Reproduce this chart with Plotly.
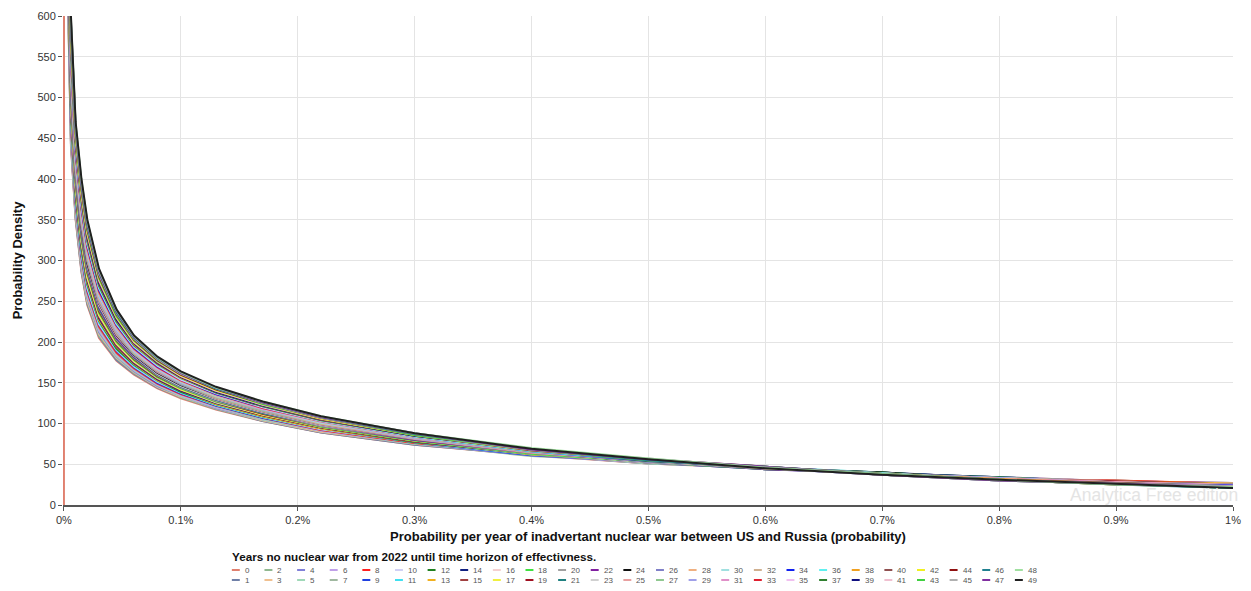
import plotly.graph_objects as go

# x positions in percent (probability per year, %)
x_pct = [0.003, 0.006, 0.01, 0.015, 0.02, 0.03, 0.045, 0.06, 0.08, 0.1, 0.13, 0.17,
         0.22, 0.3, 0.4, 0.5, 0.6, 0.7, 0.8, 0.9, 1.0]
# series "0" starts with a spike at the origin
s0_head_x = [0.0, 0.0003]
s0_head_y = [0, 3000]

y_00 = [650, 440, 350, 285, 245, 205, 177, 160, 143, 131, 117, 103, 89, 74, 61, 51, 45, 39, 34, 29, 27]
y_01 = [655, 443, 352, 287, 247, 207, 178, 161, 144, 132, 118, 103, 89, 74, 62, 51, 46, 38, 34, 28, 27]
y_02 = [660, 447, 355, 290, 249, 208, 180, 162, 145, 132, 118, 104, 90, 75, 60, 53, 44, 40, 32, 30, 25]
y_03 = [665, 450, 357, 292, 251, 210, 181, 163, 145, 133, 119, 104, 90, 75, 62, 52, 46, 39, 33, 28, 26]
y_04 = [670, 453, 360, 294, 254, 212, 182, 164, 146, 134, 119, 105, 91, 75, 61, 53, 45, 38, 34, 29, 27]
y_05 = [676, 456, 362, 297, 256, 214, 183, 165, 147, 134, 120, 105, 91, 75, 63, 51, 46, 40, 32, 30, 25]
y_06 = [681, 460, 365, 299, 258, 215, 185, 166, 148, 135, 120, 106, 91, 76, 61, 52, 44, 39, 34, 28, 26]
y_07 = [686, 463, 367, 301, 260, 217, 186, 167, 149, 136, 121, 106, 92, 76, 62, 54, 46, 38, 33, 29, 24]
y_08 = [691, 466, 370, 304, 262, 219, 187, 168, 149, 136, 122, 107, 92, 76, 63, 52, 45, 40, 32, 30, 26]
y_09 = [696, 469, 372, 306, 264, 221, 189, 169, 150, 137, 122, 107, 93, 77, 61, 53, 46, 39, 34, 28, 25]
y_10 = [701, 473, 375, 309, 266, 222, 190, 170, 151, 138, 123, 108, 93, 77, 63, 52, 44, 38, 33, 27, 26]
y_11 = [706, 476, 377, 311, 269, 224, 191, 171, 152, 138, 123, 108, 94, 77, 62, 54, 46, 40, 32, 29, 24]
y_12 = [711, 479, 379, 313, 271, 226, 192, 172, 153, 139, 124, 109, 94, 77, 64, 52, 45, 39, 34, 28, 25]
y_13 = [716, 483, 382, 316, 273, 227, 194, 173, 153, 140, 124, 109, 94, 78, 62, 53, 46, 38, 32, 29, 26]
y_14 = [721, 486, 384, 318, 275, 229, 195, 174, 154, 140, 125, 110, 95, 78, 63, 52, 44, 40, 33, 27, 24]
y_15 = [727, 489, 387, 320, 277, 231, 196, 175, 155, 141, 126, 110, 95, 78, 64, 54, 46, 39, 31, 28, 25]
y_16 = [732, 492, 389, 323, 279, 233, 198, 176, 156, 142, 126, 111, 96, 79, 63, 52, 45, 38, 33, 29, 24]
y_17 = [737, 496, 392, 325, 281, 234, 199, 177, 157, 142, 127, 111, 96, 79, 64, 54, 46, 39, 32, 27, 26]
y_18 = [742, 499, 394, 327, 284, 236, 200, 178, 157, 143, 127, 112, 96, 79, 63, 53, 44, 40, 31, 28, 24]
y_19 = [747, 502, 397, 330, 286, 238, 202, 179, 158, 144, 128, 112, 97, 80, 65, 53, 46, 38, 32, 29, 25]
y_20 = [752, 505, 399, 332, 288, 240, 203, 180, 159, 144, 128, 113, 97, 80, 64, 55, 45, 39, 33, 27, 23]
y_21 = [757, 509, 401, 334, 290, 241, 204, 181, 160, 145, 129, 113, 98, 80, 65, 53, 46, 38, 31, 28, 25]
y_22 = [762, 512, 404, 337, 292, 243, 205, 182, 161, 146, 130, 114, 98, 80, 64, 54, 44, 39, 32, 27, 24]
y_23 = [767, 515, 406, 339, 294, 245, 207, 183, 161, 146, 130, 114, 98, 81, 66, 53, 46, 38, 33, 28, 23]
y_24 = [772, 518, 409, 341, 296, 247, 208, 184, 162, 147, 131, 115, 99, 81, 65, 55, 45, 40, 31, 27, 24]
y_25 = [778, 522, 411, 344, 299, 248, 209, 185, 163, 148, 131, 115, 99, 81, 64, 54, 46, 38, 32, 28, 25]
y_26 = [783, 525, 414, 346, 301, 250, 211, 185, 164, 148, 132, 116, 100, 82, 66, 53, 45, 39, 31, 27, 23]
y_27 = [788, 528, 416, 348, 303, 252, 212, 186, 165, 149, 132, 116, 100, 82, 65, 55, 47, 37, 32, 26, 24]
y_28 = [793, 532, 419, 351, 305, 253, 213, 187, 165, 150, 133, 117, 100, 82, 66, 54, 45, 39, 31, 28, 23]
y_29 = [798, 535, 421, 353, 307, 255, 214, 188, 166, 150, 134, 117, 101, 82, 65, 55, 46, 38, 33, 27, 24]
y_30 = [803, 538, 424, 356, 309, 257, 216, 189, 167, 151, 134, 118, 101, 83, 67, 54, 45, 37, 31, 26, 23]
y_31 = [808, 541, 426, 358, 311, 259, 217, 190, 168, 152, 135, 118, 102, 83, 66, 55, 47, 38, 32, 28, 24]
y_32 = [813, 545, 428, 360, 313, 260, 218, 191, 169, 152, 135, 119, 102, 83, 65, 54, 45, 39, 31, 26, 23]
y_33 = [818, 548, 431, 363, 316, 262, 220, 192, 169, 153, 136, 119, 103, 84, 67, 55, 46, 37, 32, 27, 22]
y_34 = [823, 551, 433, 365, 318, 264, 221, 193, 170, 154, 136, 120, 103, 84, 66, 54, 47, 38, 31, 26, 24]
y_35 = [829, 554, 436, 367, 320, 266, 222, 194, 171, 154, 137, 120, 103, 84, 67, 56, 45, 37, 32, 27, 23]
y_36 = [834, 558, 438, 370, 322, 267, 223, 195, 172, 155, 138, 121, 104, 84, 66, 55, 46, 39, 31, 26, 22]
y_37 = [839, 561, 441, 372, 324, 269, 225, 196, 173, 156, 138, 121, 104, 85, 68, 54, 47, 37, 31, 27, 23]
y_38 = [844, 564, 443, 374, 326, 271, 226, 197, 173, 156, 139, 122, 105, 85, 67, 56, 46, 38, 32, 26, 22]
y_39 = [849, 568, 446, 377, 328, 272, 227, 198, 174, 157, 139, 122, 105, 85, 68, 55, 45, 37, 30, 26, 23]
y_40 = [854, 571, 448, 379, 331, 274, 229, 199, 175, 158, 140, 123, 105, 86, 67, 56, 47, 38, 31, 27, 22]
y_41 = [859, 574, 450, 381, 333, 276, 230, 200, 176, 158, 140, 123, 106, 86, 68, 55, 46, 37, 30, 26, 23]
y_42 = [864, 577, 453, 384, 335, 278, 231, 201, 177, 159, 141, 124, 106, 86, 69, 56, 45, 38, 31, 25, 22]
y_43 = [869, 581, 455, 386, 337, 279, 232, 202, 177, 160, 142, 124, 107, 86, 68, 55, 47, 37, 30, 26, 21]
y_44 = [874, 584, 458, 388, 339, 281, 234, 203, 178, 160, 142, 125, 107, 87, 69, 56, 46, 38, 31, 25, 22]
y_45 = [880, 587, 460, 391, 341, 283, 235, 204, 179, 161, 143, 125, 107, 87, 68, 57, 45, 37, 30, 26, 23]
y_46 = [885, 590, 463, 393, 343, 285, 236, 205, 180, 162, 143, 126, 108, 87, 69, 55, 46, 38, 31, 25, 21]
y_47 = [890, 594, 465, 395, 346, 286, 238, 206, 181, 162, 144, 126, 108, 88, 68, 56, 47, 37, 30, 26, 22]
y_48 = [895, 597, 468, 398, 348, 288, 239, 207, 181, 163, 144, 127, 109, 88, 70, 57, 46, 38, 31, 25, 22]
y_49 = [900, 600, 470, 400, 350, 290, 240, 208, 182, 164, 145, 127, 109, 88, 69, 56, 45, 37, 31, 26, 21]

series_y = [y_00, y_01, y_02, y_03, y_04, y_05, y_06, y_07, y_08, y_09,
            y_10, y_11, y_12, y_13, y_14, y_15, y_16, y_17, y_18, y_19,
            y_20, y_21, y_22, y_23, y_24, y_25, y_26, y_27, y_28, y_29,
            y_30, y_31, y_32, y_33, y_34, y_35, y_36, y_37, y_38, y_39,
            y_40, y_41, y_42, y_43, y_44, y_45, y_46, y_47, y_48, y_49]

series_names = ["0", "1", "2", "3", "4", "5", "6", "7", "8", "9",
                "10", "11", "12", "13", "14", "15", "16", "17", "18", "19",
                "20", "21", "22", "23", "24", "25", "26", "27", "28", "29",
                "30", "31", "32", "33", "34", "35", "36", "37", "38", "39",
                "40", "41", "42", "43", "44", "45", "46", "47", "48", "49"]

series_colors = ["#e0806f", "#7080a8", "#90b890", "#f0c090", "#8080d8", "#a0d8b8", "#c0a0e8", "#a0b8a0",
                 "#ff2020", "#2040e0", "#d0d0f4", "#40e0f0", "#208020", "#f0b020", "#102080", "#a04040",
                 "#f4d0d0", "#f0f040", "#40e040", "#a01020", "#a0a0a0", "#208080", "#8020a0", "#d0d0d0",
                 "#101010", "#e8a0a0", "#8080c8", "#90c890", "#f0b080", "#a0a0e8", "#a0e0e0", "#e090c8",
                 "#d0b090", "#e02030", "#1020f0", "#f0c0f0", "#60f0f0", "#308030", "#f0a020", "#101080",
                 "#905050", "#f0c0d0", "#f0f020", "#40d040", "#901010", "#b0b0b0", "#208090", "#8030a0",
                 "#a0e0a0", "#202020"]

x_tick_vals = [0, 0.1, 0.2, 0.3, 0.4, 0.5, 0.6, 0.7, 0.8, 0.9, 1.0]
x_tick_text = ["0%", "0.1%", "0.2%", "0.3%", "0.4%", "0.5%", "0.6%", "0.7%", "0.8%", "0.9%", "1%"]
y_tick_vals = [0, 50, 100, 150, 200, 250, 300, 350, 400, 450, 500, 550, 600]

x_title = "Probability per year of inadvertant nuclear war between US and Russia (probability)"
y_title = "Probability Density"
legend_title = "Years no nuclear war from 2022 until time horizon of effectivness."
watermark = "Analytica Free edition"

FONT = "Liberation Sans, Arial, sans-serif"

fig = go.Figure()
for i, ys in enumerate(series_y):
    xs = x_pct
    yy = ys
    if i == 0:
        xs = s0_head_x + x_pct
        yy = s0_head_y + ys
    fig.add_trace(go.Scatter(
        x=xs, y=yy, mode="lines", name=series_names[i],
        line=dict(color=series_colors[i], width=2),
        showlegend=False, hoverinfo="skip"))

# plot-area geometry (px) used to place the hand-built legend
L, R, T, B = 63, 1241, 16, 505
PW, PH = R - L, B - T

def px_to_paper(xp, yp):
    return (xp - L) / PW, (B - yp) / PH

shapes = []
annotations = []
col_pitch = 32.85
for i, name in enumerate(series_names):
    col, row = i // 2, i % 2
    xp = 233 + col * col_pitch
    yp = 570 + row * 10
    x0, y0 = px_to_paper(xp, yp)
    x1, _ = px_to_paper(xp + 8, yp)
    shapes.append(dict(type="line", xref="paper", yref="paper", x0=x0, x1=x1, y0=y0, y1=y0,
                       line=dict(color=series_colors[i], width=2)))
    xt, yt = px_to_paper(xp + 12, yp)
    annotations.append(dict(x=xt, y=yt, xref="paper", yref="paper", xanchor="left", yanchor="middle",
                            showarrow=False, text=name, borderpad=0,
                            font=dict(family=FONT, size=8, color="#555")))

tx, ty = px_to_paper(232, 556)
annotations.append(dict(x=tx, y=ty, xref="paper", yref="paper", xanchor="left", yanchor="middle",
                        showarrow=False, text="<b>" + legend_title + "</b>", borderpad=0,
                        font=dict(family=FONT, size=11.7, color="#111")))
wx, wy = px_to_paper(1248, 495)
annotations.append(dict(x=wx, y=wy, xref="paper", yref="paper", xanchor="right", yanchor="middle",
                        showarrow=False, text=watermark,
                        font=dict(family=FONT, size=17.5, color="#e4e4e4")))

fig.update_layout(
    width=1251, height=591, autosize=False,
    margin=dict(l=L, r=1251 - R, t=T, b=591 - B),
    plot_bgcolor="white", paper_bgcolor="white",
    font=dict(family=FONT, size=11, color="#333"),
    shapes=shapes, annotations=annotations,
    showlegend=False,
)
fig.update_xaxes(
    range=[-0.0008, 1.0], tickvals=x_tick_vals, ticktext=x_tick_text,
    showgrid=True, gridcolor="#e4e4e4", gridwidth=1, zeroline=False,
    showline=True, linecolor="#555", linewidth=2,
    ticks="outside", ticklen=4, tickcolor="#555",
    tickfont=dict(family=FONT, size=11, color="#333"),
    title=dict(text="<b>" + x_title + "</b>", font=dict(family=FONT, size=13, color="#111"), standoff=7),
)
fig.update_yaxes(
    range=[0, 600], tickvals=y_tick_vals,
    showgrid=True, gridcolor="#e4e4e4", gridwidth=1, zeroline=False,
    showline=False, ticks="outside", ticklen=4, tickcolor="#555",
    tickfont=dict(family=FONT, size=11, color="#333"),
    title=dict(text="<b>" + y_title + "</b>", font=dict(family=FONT, size=13, color="#111"), standoff=11),
)

fig.write_html("out.html")
